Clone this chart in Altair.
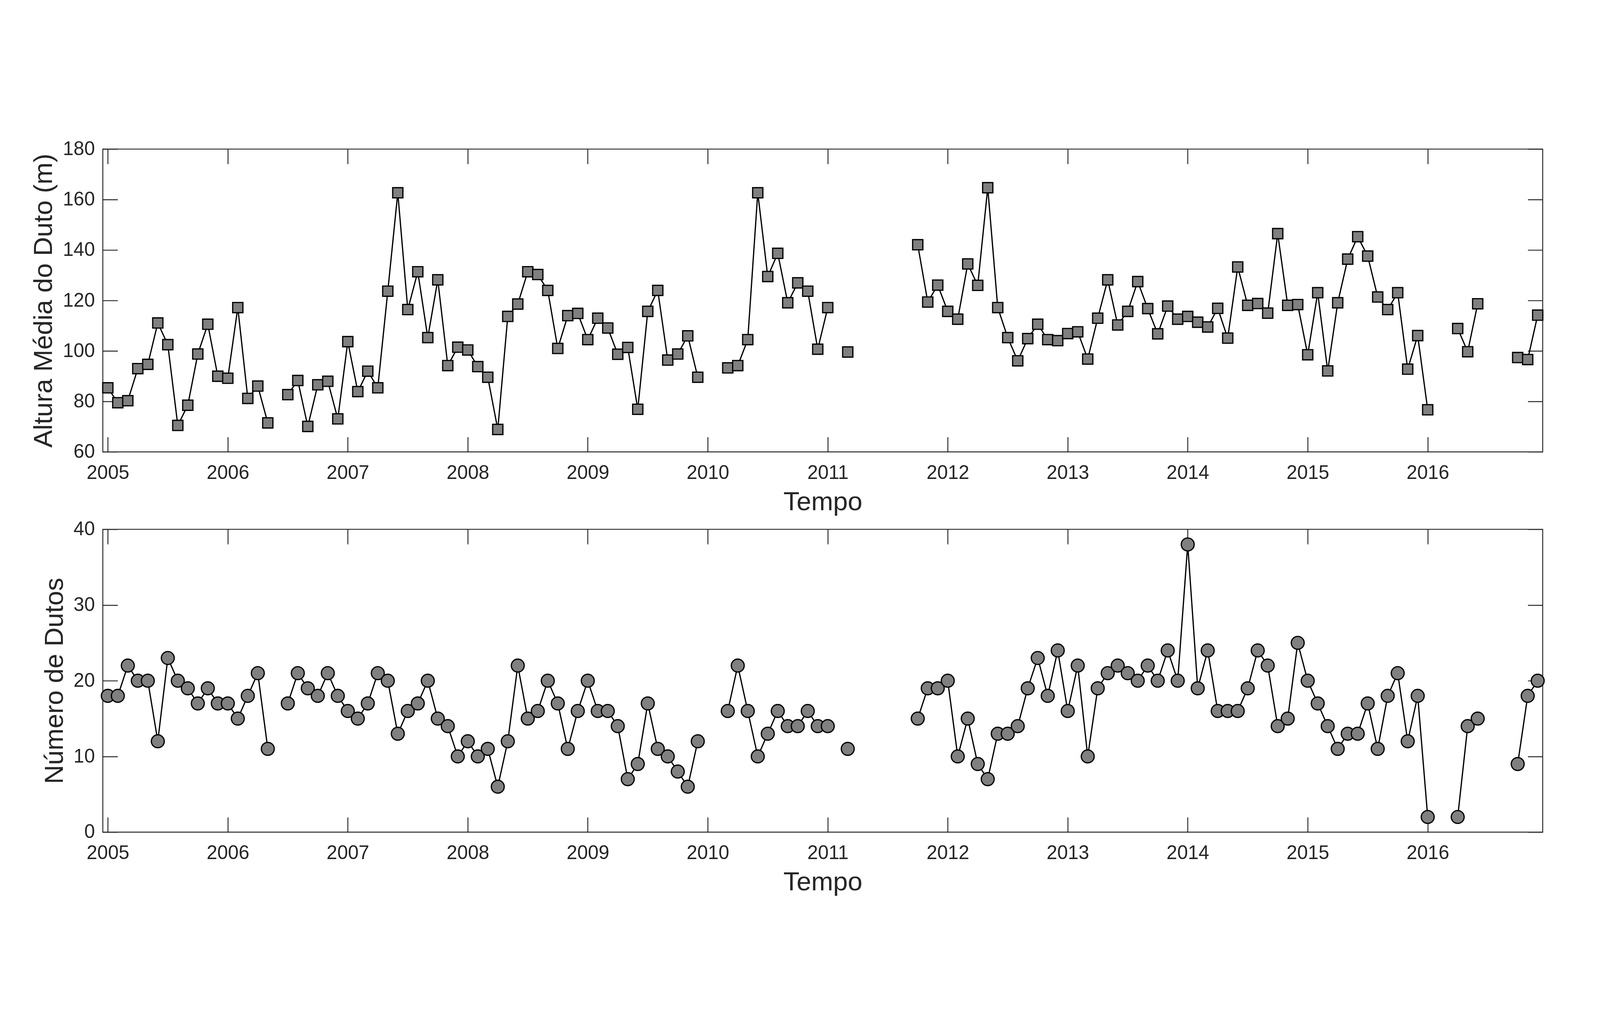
import altair as alt
import pandas as pd

START_YEAR = 2005
year_ticks = list(range(2005, 2017))
altura_ticks = [60, 80, 100, 120, 140, 160, 180]
dutos_ticks = [0, 10, 20, 30, 40]

# monthly values, Jan 2005 .. Dec 2016 (None = no data)
altura = [
    85.4, 79.5, 80.3, 93.0, 94.7, 111.1, 102.5, 70.5, 78.5, 98.8, 110.6, 90.0,
    89.2, 117.2, 81.2, 86.1, 71.5, None, 82.7, 88.3, 70.1, 86.6, 88.0, 73.1,
    103.7, 83.9, 92.0, 85.4, 123.7, 162.7, 116.4, 131.4, 105.3, 128.2, 94.2, 101.5,
    100.4, 93.8, 89.6, 68.9, 113.7, 118.6, 131.4, 130.3, 124.0, 101.0, 114.0, 114.9,
    104.5, 113.0, 109.1, 98.7, 101.4, 76.9, 115.7, 124.0, 96.4, 98.8, 106.0, 89.6,
    None, None, 93.3, 94.2, 104.5, 162.7, 129.5, 138.7, 119.1, 127.0, 123.7, 100.7,
    117.2, None, 99.6, None, None, None, None, None, None, 142.1, 119.4, 126.1,
    115.7, 112.6, 134.5, 126.0, 164.7, 117.2, 105.3, 96.1, 104.9, 110.6, 104.5, 104.1,
    106.9, 107.6, 96.8, 113.0, 128.2, 110.3, 115.7, 127.5, 116.8, 106.8, 117.8, 112.6,
    113.7, 111.4, 109.5, 116.9, 105.1, 133.3, 118.1, 118.8, 115.0, 146.5, 118.1, 118.4,
    98.5, 123.1, 92.1, 119.1, 136.4, 145.3, 137.6, 121.4, 116.4, 123.1, 92.8, 106.1,
    76.7, None, None, 108.9, 99.7, 118.7, None, None, None, 97.4, 96.6, 114.2,
]

dutos = [
    18, 18, 22, 20, 20, 12, 23, 20, 19, 17, 19, 17,
    17, 15, 18, 21, 11, None, 17, 21, 19, 18, 21, 18,
    16, 15, 17, 21, 20, 13, 16, 17, 20, 15, 14, 10,
    12, 10, 11, 6, 12, 22, 15, 16, 20, 17, 11, 16,
    20, 16, 16, 14, 7, 9, 17, 11, 10, 8, 6, 12,
    None, None, 16, 22, 16, 10, 13, 16, 14, 14, 16, 14,
    14, None, 11, None, None, None, None, None, None, 15, 19, 19,
    20, 10, 15, 9, 7, 13, 13, 14, 19, 23, 18, 24,
    16, 22, 10, 19, 21, 22, 21, 20, 22, 20, 24, 20,
    38, 19, 24, 16, 16, 16, 19, 24, 22, 14, 15, 25,
    20, 17, 14, 11, 13, 13, 17, 11, 18, 21, 12, 18,
    2, None, None, 2, 14, 15, None, None, None, 9, 18, 20,
]


def frame(values):
    rows = []
    seg = 0
    gap = False
    for i, v in enumerate(values):
        if v is None:
            gap = True
            continue
        if gap:
            seg += 1
            gap = False
        rows.append({"t": START_YEAR + i / 12.0, "v": v, "seg": seg})
    return pd.DataFrame(rows)


X_DOMAIN = [START_YEAR - 0.5 / 12.0, START_YEAR + 143.5 / 12.0]
W = 4651
H = 978
AX = "#262626"
FONT = "Liberation Sans"
TICK = 48


def axis_main(orient, values, title, label_pad, title_pad, fmt=None):
    kw = dict(
        orient=orient, values=values, title=title, offset=-TICK, tickSize=TICK,
        labelPadding=label_pad, titlePadding=title_pad, labelFlush=False,
        domain=False, grid=False, tickColor=AX, tickWidth=3,
        labelColor=AX, labelFont=FONT, labelFontSize=62,
        titleColor=AX, titleFont=FONT, titleFontSize=85, titleFontWeight="normal",
    )
    if fmt:
        kw["format"] = fmt
    return alt.Axis(**kw)


def axis_mirror(orient, values):
    return alt.Axis(orient=orient, values=values, title=None, labels=False,
                    offset=-TICK, tickSize=TICK, domain=False, grid=False,
                    tickColor=AX, tickWidth=3)


def panel(values, ytitle, ydomain, yticks, mark):
    df = frame(values)
    xs = alt.Scale(domain=X_DOMAIN, nice=False, zero=False)
    ys = alt.Scale(domain=ydomain, nice=False, zero=False)
    base = alt.Chart(df)
    line = base.mark_line(color="black", strokeWidth=4).encode(
        x=alt.X("t:Q", scale=xs,
                axis=axis_main("bottom", year_ticks, "Tempo", 38, 22, "d")),
        y=alt.Y("v:Q", scale=ys,
                axis=axis_main("left", yticks, ytitle, 26, 17)),
        detail="seg:N",
    )
    if mark == "square":
        pm = base.mark_square(color="#808080", stroke="black", strokeWidth=4,
                              size=1089, opacity=1)
    else:
        pm = base.mark_circle(color="#808080", stroke="black", strokeWidth=4,
                              size=1740, opacity=1)
    pts = pm.encode(
        x=alt.X("t:Q", scale=xs, axis=axis_mirror("top", year_ticks)),
        y=alt.Y("v:Q", scale=ys, axis=axis_mirror("right", yticks)),
    )
    return (
        alt.layer(line, pts)
        .resolve_axis(x="independent", y="independent")
        .properties(width=W, height=H)
    )


top = panel(altura, "Altura Média do Duto (m)", [60, 180], altura_ticks, "square")
bottom = panel(dutos, "Número de Dutos", [0, 40], dutos_ticks, "circle")

chart = (
    alt.vconcat(top, bottom, spacing=10)
    .properties(padding={"left": 88, "top": 100, "right": 160, "bottom": 40},
                background="white")
    .configure(font=FONT)
    .configure_view(stroke=AX, strokeWidth=3)
    .configure_axis(grid=False, domain=False)
)

chart.save("out.html", embed_options={"renderer": "svg", "actions": False})
